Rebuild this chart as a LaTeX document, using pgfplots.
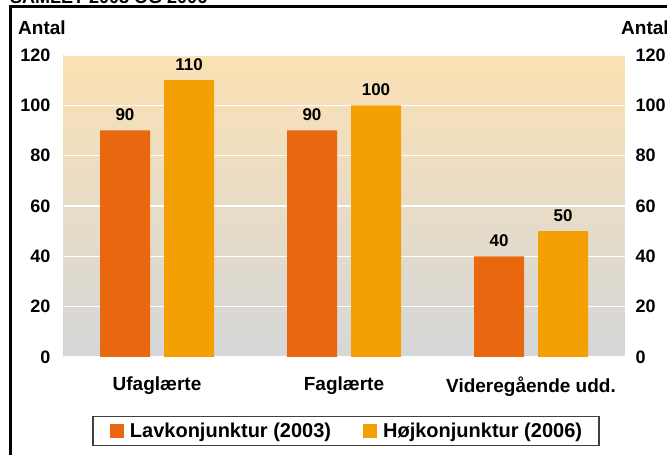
\documentclass[border=0pt]{standalone}
\usepackage{fontspec}
\setmainfont{Liberation Sans}
\usepackage{pgfplots}
\pgfplotsset{compat=1.18}
\definecolor{Clav}{HTML}{E9680F}
\definecolor{Choj}{HTML}{F5A002}
\definecolor{Cbgtop}{HTML}{FBE1B3}
\definecolor{Cbgbot}{HTML}{D5D7D9}
\newcommand{\fs}[1]{\bfseries\fontsize{#1}{#1}\selectfont}

\begin{document}
\begin{tikzpicture}[x=1pt,y=1pt]
\useasboundingbox (0,0) rectangle (667,455);
% title, cut off by the page edge like in the source
\node[anchor=base west, inner sep=0, font=\fs{18}] at (10,451) {SAMLET 2003 OG 2006};
\draw[line width=2.5pt] (10.5,-5) -- (10.5,448.5) -- (690,448.5);
\node[anchor=west, inner sep=0, font=\fs{19}] at (18,427) {Antal};
\node[anchor=west, inner sep=0, font=\fs{19}] at (621,427) {Antal};

\begin{axis}[
  at={(63.5pt,98pt)}, anchor=south west,
  scale only axis, width=561pt, height=302pt,
  ymin=0, ymax=120, xmin=-0.5, xmax=2.5,
  ytick={0,20,...,120},
  xtick=data,
  xticklabels={Ufaglærte,Faglærte,Videregående udd.},
  ybar=14pt, bar width=50pt,
  axis line style={draw=none},
  major tick length=0pt,
  axis background/.style={top color=Cbgtop, bottom color=Cbgbot},
  ymajorgrids, grid style={white, line width=1.2pt},
  /pgf/number format/assume math mode=true,
  yticklabel style={font=\fs{18}, xshift=-9.5pt},
  xticklabel style={font=\fs{19}, yshift=-16pt},
  nodes near coords,
  every node near coord/.append style={font=\fs{17}, yshift=6pt, color=black},
  legend columns=2,
  legend image code/.code={\fill[#1] (0pt,-7pt) rectangle (14pt,7pt);},
  legend style={at={(0.5036,-0.245)}, anchor=center, draw=black!75, line width=1.2pt,
    font=\fs{20}, inner xsep=17pt, inner ysep=6.5pt,
    nodes={inner sep=0pt},
    /tikz/every odd column/.append style={column sep=6pt},
    /tikz/every even column/.append style={column sep=32pt}},
]
\addplot[fill=Clav, draw=none] coordinates {(0,90) (1,90) (2,40)};
\addplot[fill=Choj, draw=none] coordinates {(0,110) (1,100) (2,50)};
\legend{Lavkonjunktur (2003),Højkonjunktur (2006)}
\end{axis}

\begin{axis}[
  at={(63.5pt,98pt)}, anchor=south west,
  scale only axis, width=561pt, height=302pt,
  ymin=0, ymax=120, xmin=-0.5, xmax=2.5,
  ytick={0,20,...,120},
  hide x axis,
  axis y line*=right,
  axis line style={draw=none},
  major tick length=0pt,
  /pgf/number format/assume math mode=true,
  yticklabel style={font=\fs{18}, xshift=7.5pt},
]
\addplot[draw=none] coordinates {(0,0)};
\end{axis}
\end{tikzpicture}
\end{document}
